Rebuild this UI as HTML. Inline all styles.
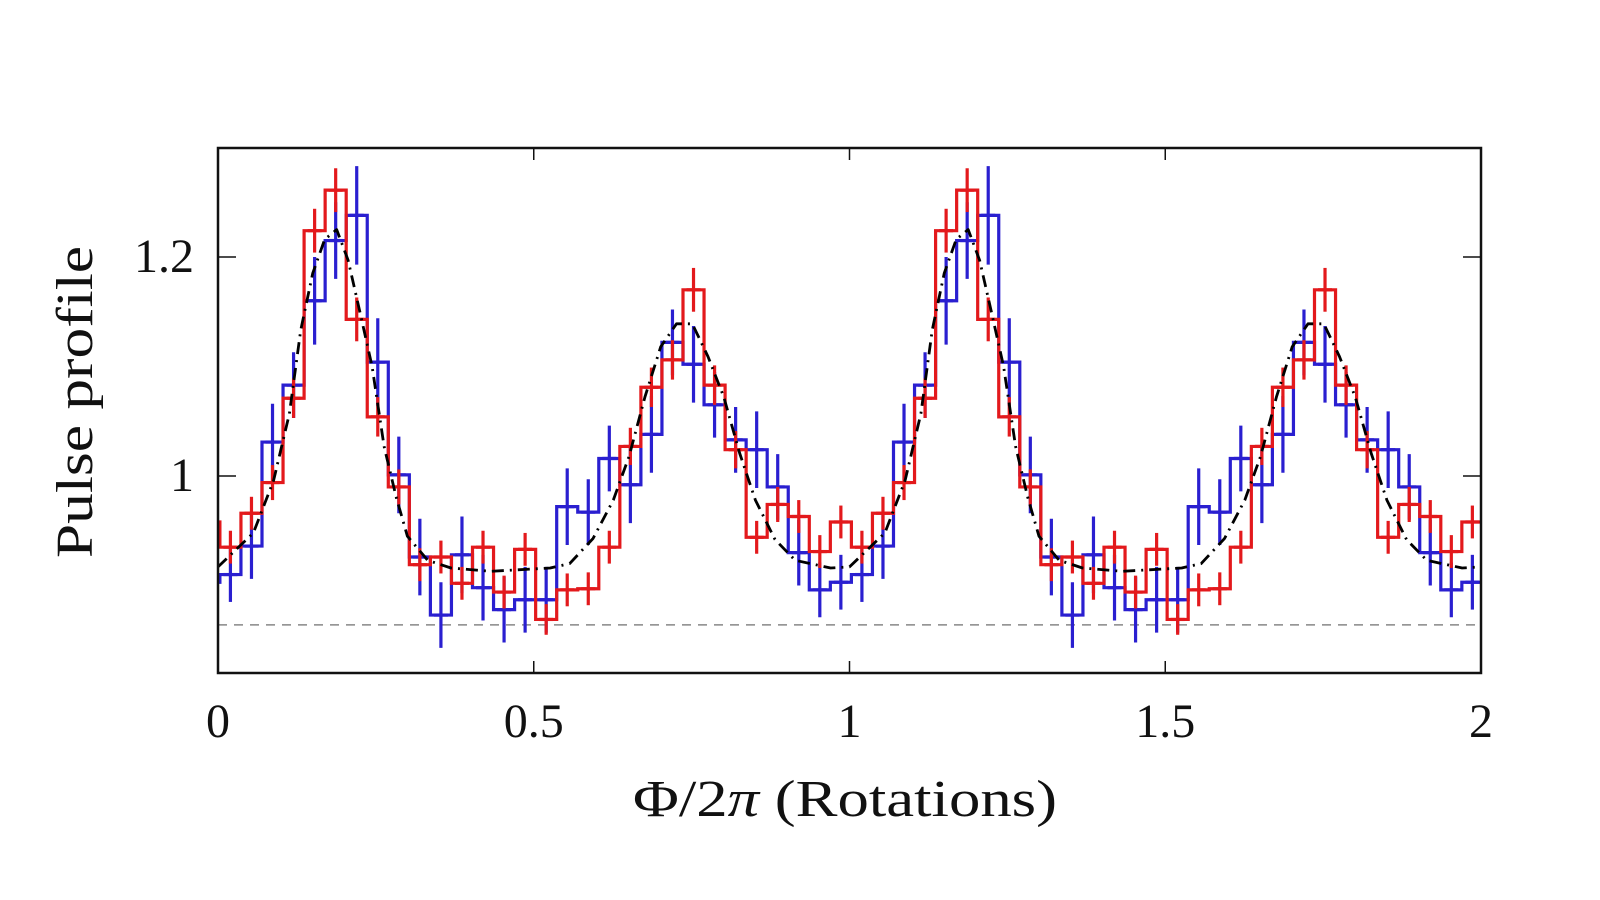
<!DOCTYPE html>
<html><head><meta charset="utf-8"><style>
html,body{margin:0;padding:0;background:#fff;}
svg{display:block;}
text{font-family:"Liberation Serif","DejaVu Serif",serif;fill:#111;}
</style></head>
<body>
<svg id="chart" width="1600" height="900" viewBox="0 0 1600 900" xmlns="http://www.w3.org/2000/svg">
<g id="marks"></g>
<rect x="218" y="148" width="1263" height="525" fill="none" stroke="#111" stroke-width="2.5"/>
<g id="axes"></g>
<text transform="translate(92,402) rotate(-90)" text-anchor="middle" font-size="52" textLength="312" lengthAdjust="spacingAndGlyphs">Pulse profile</text>
<text x="845" y="816" text-anchor="middle" font-size="52" textLength="424" lengthAdjust="spacingAndGlyphs">Φ/2<tspan font-style="italic">π</tspan> (Rotations)</text>
</svg>
<script>
const xTicks = [0, 0.5, 1, 1.5, 2];
const xTickLabels = ["0", "0.5", "1", "1.5", "2"];
const yTicks = [1, 1.2];
const yTickLabels = ["1", "1.2"];
const nBins = 30;
const binOffset = 0.003;
const redValues = [0.935,0.966,0.994,1.071,1.224,1.261,1.143,1.054,0.990,0.919,0.926,0.902,0.935,0.894,0.933,0.869,0.896,0.897,0.935,1.027,1.081,1.106,1.170,1.083,1.024,0.944,0.974,0.963,0.931,0.958];
const redErrors = [0.015,0.015,0.016,0.018,0.02,0.02,0.02,0.018,0.016,0.015,0.015,0.015,0.015,0.015,0.015,0.014,0.015,0.015,0.015,0.017,0.018,0.018,0.02,0.018,0.017,0.015,0.016,0.015,0.015,0.015];
const blueValues = [0.910,0.936,1.031,1.083,1.160,1.215,1.238,1.104,1.001,0.926,0.873,0.928,0.898,0.878,0.887,0.887,0.972,0.967,1.016,0.992,1.038,1.122,1.102,1.065,1.033,1.024,0.990,0.930,0.896,0.903];
const blueErrors = [0.025,0.03,0.035,0.03,0.04,0.035,0.045,0.04,0.035,0.035,0.03,0.035,0.03,0.03,0.03,0.03,0.035,0.03,0.03,0.035,0.035,0.03,0.035,0.03,0.03,0.035,0.03,0.03,0.025,0.025];
const modelPhase = [0,0.056,0.088,0.113,0.131,0.150,0.169,0.188,0.206,0.225,0.244,0.263,0.282,0.300,0.332,0.369,0.432,0.526,0.557,0.594,0.626,0.651,0.676,0.701,0.726,0.751,0.776,0.801,0.826,0.851,0.882,0.914,0.970,1.0];
const modelValues = [0.917,0.948,0.996,1.057,1.133,1.185,1.216,1.225,1.197,1.149,1.100,1.027,0.981,0.945,0.923,0.916,0.913,0.916,0.920,0.943,0.978,1.018,1.072,1.118,1.139,1.139,1.109,1.072,1.021,0.978,0.942,0.923,0.916,0.917];
const baseline = 0.864;

const X0=218, X1=1481, Y0=148, Y1=673;
const xMin=0, xMax=2, yMin=0.8201, yMax=1.2995;
function sx(v){return X0+(v-xMin)/(xMax-xMin)*(X1-X0);}
function sy(v){return Y1-(v-yMin)/(yMax-yMin)*(Y1-Y0);}
const NS="http://www.w3.org/2000/svg";
const marks=document.getElementById('marks');
const axes=document.getElementById('axes');
function mk(tag,attrs,parent){const e=document.createElementNS(NS,tag);for(const k in attrs)e.setAttribute(k,attrs[k]);parent.appendChild(e);return e;}

let bl=mk('line',{x1:X0,x2:X1,y1:sy(baseline),y2:sy(baseline),stroke:'#888','stroke-width':1.5,'stroke-dasharray':'9,7'},marks);



function drawHist(vals,errs,color,name){
  const w=1/nBins;
  let d='';
  const lastV=vals[nBins-1];
  d+='M'+sx(0)+','+sy(lastV)+' H'+sx(binOffset);
  for(let r=0;r<2;r++){
    for(let k=0;k<nBins;k++){
      const a=r+binOffset+k*w, b=Math.min(r+binOffset+(k+1)*w,2);
      if(a>=2)break;
      d+=' V'+sy(vals[k])+' H'+sx(b);
    }
  }
  const p=mk('path',{d:d,fill:'none',stroke:color,'stroke-width':3.2},marks);
  
  
  const g=mk('g',{stroke:color,'stroke-width':3.2},marks);
  
  
  for(let r=0;r<2;r++){
    for(let k=0;k<nBins;k++){
      const c=r+binOffset+(k+0.5)*w;
      if(c>2)break;
      mk('line',{x1:sx(c),x2:sx(c),y1:sy(vals[k]-errs[k]),y2:sy(vals[k]+errs[k])},g);
      mk('line',{x1:sx(c)-7,x2:sx(c)+7,y1:sy(vals[k]),y2:sy(vals[k])},g);
    }
  }
}
drawHist(blueValues,blueErrors,'#2a1fd0','blue');
drawHist(redValues,redErrors,'#e3191c','red');

let md='';
for(let r=0;r<2;r++){
  for(let i=0;i<modelPhase.length;i++){
    if(r===1&&i===0)continue;
    md+=(md?' L':'M')+sx(r+modelPhase[i]).toFixed(1)+','+sy(modelValues[i]).toFixed(1);
  }
}
const mp=mk('path',{d:md,fill:'none',stroke:'#000','stroke-width':2.8,'stroke-dasharray':'12,6,2,6','stroke-linejoin':'round'},marks);



xTicks.forEach((t,i)=>{
  const x=sx(t);
  if(i>0&&i<xTicks.length-1){
    mk('line',{x1:x,x2:x,y1:Y1,y2:Y1-12,stroke:'#111','stroke-width':1.5},axes);
    mk('line',{x1:x,x2:x,y1:Y0,y2:Y0+12,stroke:'#111','stroke-width':1.5},axes);
  }
  const tx=mk('text',{x:x,y:737,'text-anchor':'middle','font-size':48},axes);
  tx.textContent=xTickLabels[i];
  
  
});
yTicks.forEach((t,i)=>{
  const y=sy(t);
  mk('line',{x1:X0,x2:X0+18,y1:y,y2:y,stroke:'#111','stroke-width':1.5},axes);
  mk('line',{x1:X1,x2:X1-18,y1:y,y2:y,stroke:'#111','stroke-width':1.5},axes);
  const tx=mk('text',{x:194,y:y+15,'text-anchor':'end','font-size':48},axes);
  tx.textContent=yTickLabels[i];
  
  
});
</script>
</body></html>
